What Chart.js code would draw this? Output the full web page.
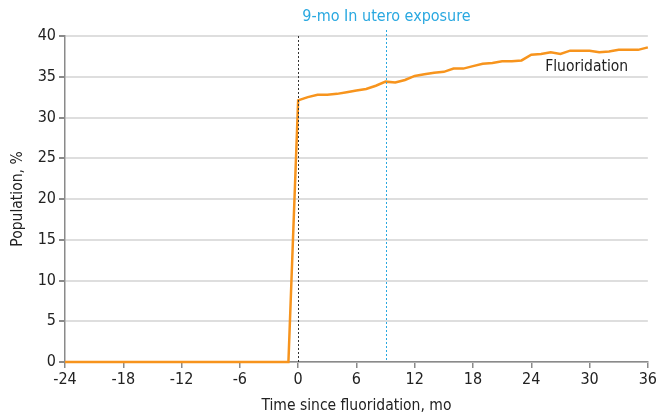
<!DOCTYPE html>
<html>
<head>
<meta charset="utf-8">
<script src="https://cdn.jsdelivr.net/npm/chart.js@4/dist/chart.umd.min.js"></script>
<style>
html,body{margin:0;padding:0;background:#fff;}
#wrap{width:659px;height:415px;}
</style>
</head>
<body>
<div id="wrap"><canvas id="c" width="659" height="415"></canvas></div>
<script>
const months = [];
for (let m = -24; m <= 36; m++) months.push(m);
const preValues = [0,0,0,0,0,0,0,0,0,0,0,0,0,0,0,0,0,0,0,0,0,0,0,0]; // -24 .. -1
const postValues = [32.1,32.5,32.8,32.8,32.9,33.1,33.3,33.5,33.9,34.4,34.3,34.6,35.1,35.3,35.5,35.6,36.0,36.0,36.3,36.6,36.7,36.9,36.9,37.0,37.7,37.8,38.0,37.8,38.2,38.2,38.2,38.0,38.1,38.3,38.3,38.3,38.6]; // 0 .. 36
const fluoridation = preValues.concat(postValues);
const xTicks = [-24,-18,-12,-6,0,6,12,18,24,30,36];
const yTicks = [0,5,10,15,20,25,30,35,40];
const markers = [{x:0,color:'#333333',label:''},{x:9,color:'#29A8E0',label:'9-mo In utero exposure'}];
const seriesLabel = 'Fluoridation';

const FONT = '"DejaVu Sans Condensed","Liberation Sans Narrow","Liberation Sans",sans-serif';
const ORANGE = '#F7941D';
const AXIS = '#8a8a8a';

const annot = {
  id:'annot',
  afterDatasetsDraw(chart){
    const {ctx, chartArea, scales:{x,y}} = chart;
    ctx.save();
    markers.forEach(mk=>{
      const px = Math.round(x.getPixelForValue(mk.x))+0.5;
      ctx.strokeStyle = mk.color;
      ctx.lineWidth = 1;
      ctx.setLineDash([2,2]);
      ctx.beginPath();
      ctx.moveTo(px, mk.label ? chartArea.top-6 : chartArea.top);
      ctx.lineTo(px, chartArea.bottom);
      ctx.stroke();
      if (mk.label){
        ctx.setLineDash([]);
        ctx.fillStyle = mk.color;
        ctx.font = '16px '+FONT;
        ctx.textAlign = 'center';
        ctx.textBaseline = 'middle';
        ctx.fillText(mk.label, px, 17);
      }
    });
    ctx.setLineDash([]);
    ctx.fillStyle = '#222';
    ctx.font = '15.5px '+FONT;
    ctx.textAlign = 'center';
    ctx.textBaseline = 'middle';
    ctx.fillText(seriesLabel, x.getPixelForValue(29.7), y.getPixelForValue(36.2));
    ctx.restore();
  }
};

new Chart(document.getElementById('c'), {
  type:'line',
  data:{
    datasets:[{
      label:seriesLabel,
      data: months.map((m,i)=>({x:m,y:fluoridation[i]})),
      borderColor:ORANGE,
      borderWidth:2.5,
      pointRadius:0,
      tension:0,
      fill:false,
      clip:4
    }]
  },
  options:{
    responsive:false,
    animation:false,
    layout:{padding:{top:36,right:9,left:0,bottom:0}},
    plugins:{legend:{display:false},tooltip:{enabled:false}},
    scales:{
      x:{
        type:'linear',min:-24,max:36,
        afterBuildTicks(s){ s.ticks = xTicks.map(v=>({value:v})); },
        afterFit(s){ s.height = 53; },
        ticks:{font:{family:FONT,size:16},color:'#222',padding:2,maxRotation:0,
          callback:v=>String(v)},
        grid:{drawOnChartArea:false,drawTicks:true,tickLength:6,tickColor:AXIS,lineWidth:1.5},
        border:{color:AXIS,width:1.5},
        title:{display:true,text:'Time since fluoridation, mo',font:{family:FONT,size:15.5},color:'#222',padding:{top:3,bottom:0}}
      },
      y:{
        min:0,max:40,
        afterBuildTicks(s){ s.ticks = yTicks.map(v=>({value:v})); },
        afterFit(s){ s.width = 65; },
        ticks:{font:{family:FONT,size:16},color:'#222',padding:3},
        grid:{color:'#dedede',lineWidth:2,drawTicks:true,tickLength:6,tickColor:AXIS},
        border:{color:AXIS,width:1.5},
        title:{display:true,text:'Population, %',font:{family:FONT,size:15.5},color:'#222',padding:{top:9,bottom:2}}
      }
    }
  },
  plugins:[annot]
});
</script>
</body>
</html>
